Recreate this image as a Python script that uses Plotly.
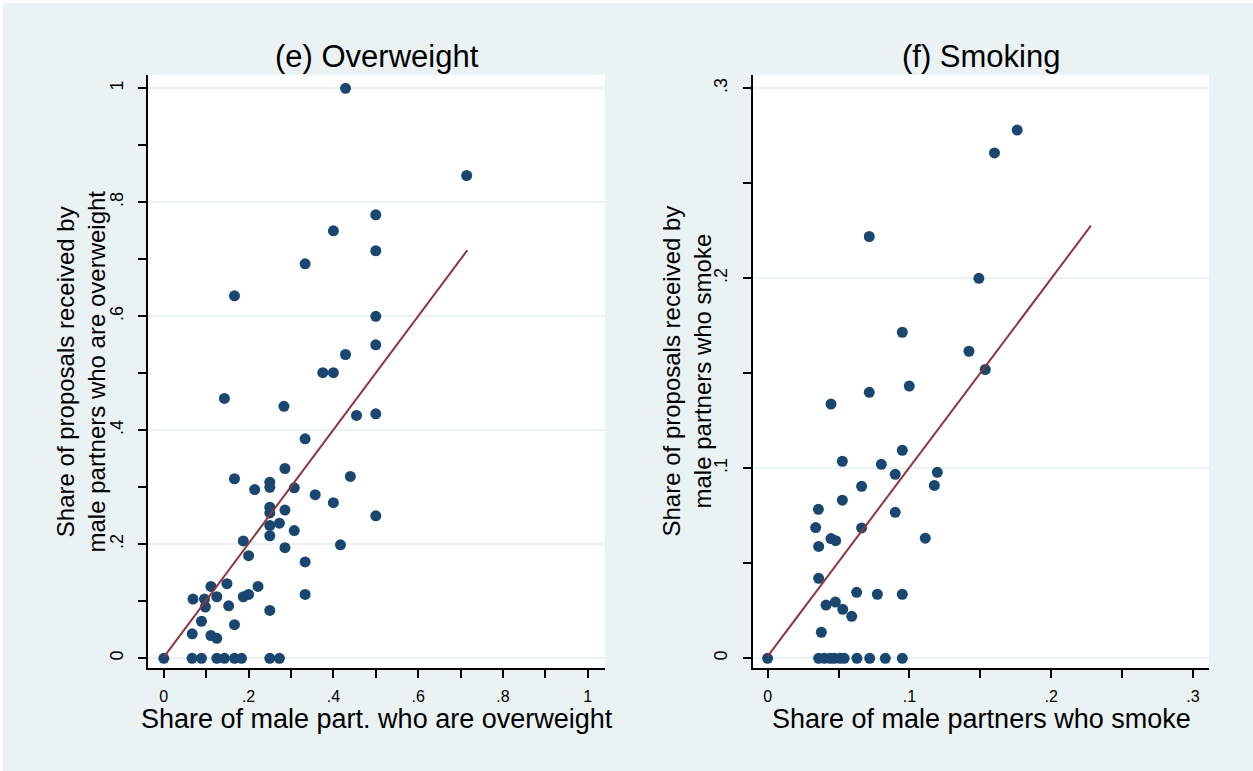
import plotly.graph_objects as go

W, H = 1253, 771

# ---------------- data: panel (e) Overweight ----------------
ow_x = [0, 0.0667, 0.0889, 0.125, 0.1429, 0.1667, 0.1833, 0.25, 0.2727,
        0.1429, 0.2833, 0.4545, 0.5, 0.3333, 0.2857, 0.1667, 0.44, 0.2143,
        0.25, 0.25, 0.3077, 0.3571, 0.4, 0.25, 0.25, 0.2857, 0.5, 0.2727,
        0.3077, 0.25, 0.25, 0.1875, 0.4167, 0.2857, 0.2, 0.3333, 0.1111,
        0.149, 0.2222, 0.0689, 0.096, 0.125, 0.1875, 0.2, 0.3333, 0.098,
        0.153, 0.25, 0.0889, 0.1667, 0.067, 0.1111, 0.125,
        0.4286, 0.7143, 0.5, 0.4, 0.5, 0.3333, 0.1667, 0.5, 0.5, 0.4286,
        0.375, 0.4]
ow_y = [0, 0, 0, 0, 0, 0, 0, 0, 0,
        0.456, 0.442, 0.426, 0.429, 0.385, 0.333, 0.315, 0.319, 0.296,
        0.309, 0.300, 0.299, 0.287, 0.273, 0.265, 0.255, 0.260, 0.250, 0.237,
        0.224, 0.233, 0.215, 0.206, 0.199, 0.194, 0.180, 0.169, 0.126,
        0.131, 0.126, 0.104, 0.104, 0.108, 0.108, 0.112, 0.112, 0.090,
        0.092, 0.084, 0.065, 0.059, 0.043, 0.040, 0.035,
        1.0, 0.847, 0.778, 0.750, 0.715, 0.692, 0.636, 0.600, 0.550, 0.533,
        0.501, 0.501]
ow_fit_x = [0, 0.716]
ow_fit_y = [0.002, 0.716]

# ---------------- data: panel (f) Smoking ----------------
sm_x = [0, 0.036, 0.040, 0.044, 0.047, 0.051, 0.054, 0.063, 0.072, 0.083, 0.095,
        0.0447, 0.0717, 0.0999, 0.095, 0.0527, 0.0802, 0.090, 0.1197, 0.1176,
        0.0663, 0.0527, 0.0358, 0.090, 0.0339, 0.0663, 0.0447, 0.048, 0.1112,
        0.036, 0.036, 0.0628, 0.0774, 0.095, 0.0412, 0.0478, 0.053, 0.0593,
        0.0379, 0.176, 0.160, 0.0717, 0.149, 0.095, 0.142, 0.1535]
sm_y = [0, 0, 0, 0, 0, 0, 0, 0, 0, 0, 0,
        0.1338, 0.140, 0.1433, 0.1095, 0.1037, 0.1021, 0.0968, 0.0979, 0.091,
        0.0905, 0.0832, 0.0784, 0.0768, 0.0688, 0.0686, 0.063, 0.0619, 0.0632,
        0.0589, 0.0421, 0.0347, 0.0337, 0.0337, 0.028, 0.0296, 0.0258, 0.0221,
        0.0137, 0.278, 0.266, 0.222, 0.200, 0.1716, 0.1616, 0.152]
sm_fit_x = [0, 0.228]
sm_fit_y = [0.001, 0.2277]

# ---------------- tick labels ----------------
ow_ticks = [0, 0.2, 0.4, 0.6, 0.8, 1]
ow_ticktext = ["0", ".2", ".4", ".6", ".8", "1"]
sm_ticks = [0, 0.1, 0.2, 0.3]
sm_ticktext = ["0", ".1", ".2", ".3"]

titles = ["(e) Overweight", "(f) Smoking"]
xtitles = ["Share of male part. who are overweight", "Share of male partners who smoke"]
ytitles = ["Share of proposals received by<br>male partners who are overweight",
           "Share of proposals received by<br>male partners who smoke"]

MARK = "#1a476f"
LINE = "#90353b"
BG = "#eaf2f3"
FONT = "Liberation Sans, Arial, sans-serif"

fig = go.Figure()
fig.add_trace(go.Scatter(x=ow_x, y=ow_y, mode="markers", xaxis="x", yaxis="y",
                         marker=dict(color=MARK, size=11, line=dict(width=0)),
                         showlegend=False))
fig.add_trace(go.Scatter(x=ow_fit_x, y=ow_fit_y, mode="lines", xaxis="x", yaxis="y",
                         line=dict(color=LINE, width=2), showlegend=False))
fig.add_trace(go.Scatter(x=sm_x, y=sm_y, mode="markers", xaxis="x2", yaxis="y2",
                         marker=dict(color=MARK, size=11, line=dict(width=0)),
                         showlegend=False))
fig.add_trace(go.Scatter(x=sm_fit_x, y=sm_fit_y, mode="lines", xaxis="x2", yaxis="y2",
                         line=dict(color=LINE, width=2), showlegend=False))

def px(v):
    return v / W

def py(v):
    return 1 - v / H

ydom = [py(668), py(75)]

common_x = dict(showgrid=False, zeroline=False, showline=True, linecolor="black",
                linewidth=2, ticks="outside", ticklen=8, tickwidth=1.5, tickcolor="black",
                tickfont=dict(family=FONT, size=16, color="black"),
                ticklabelstandoff=5, tickmode="array")
common_y = dict(showgrid=True, gridcolor=BG, gridwidth=1.5, zeroline=False, showline=True,
                linecolor="black", linewidth=2, ticks="outside", ticklen=8, tickwidth=1.5,
                tickcolor="black", tickangle=-90,
                tickfont=dict(family=FONT, size=18, color="black"),
                ticklabelstandoff=8, tickmode="array", domain=ydom)

fig.update_layout(
    width=W, height=H,
    margin=dict(l=0, r=0, t=0, b=0),
    paper_bgcolor=BG, plot_bgcolor="white",
    xaxis=dict(common_x, domain=[px(148), px(605)], range=[-0.03726, 1.04057],
               tickvals=ow_ticks, ticktext=ow_ticktext, anchor="y",
               minor=dict(tick0=0, dtick=0.1, ticks="outside", ticklen=8, tickwidth=1.5,
                          tickcolor="black", showgrid=False)),
    yaxis=dict(common_y, range=[-0.01702, 1.02333], tickvals=ow_ticks,
               ticktext=ow_ticktext, anchor="x",
               minor=dict(tick0=0, dtick=0.1, ticks="outside", ticklen=8, tickwidth=1.5,
                          tickcolor="black", showgrid=False)),
    xaxis2=dict(common_x, domain=[px(752.5), px(1209)], range=[-0.01065, 0.31128],
                tickvals=sm_ticks, ticktext=sm_ticktext, anchor="y2",
                minor=dict(tick0=0, dtick=0.05, ticks="outside", ticklen=8, tickwidth=1.5,
                           tickcolor="black", showgrid=False)),
    yaxis2=dict(common_y, range=[-0.00511, 0.30700], tickvals=sm_ticks,
                ticktext=sm_ticktext, anchor="x2",
                minor=dict(tick0=0, dtick=0.05, ticks="outside", ticklen=8, tickwidth=1.5,
                           tickcolor="black", showgrid=False)),
    showlegend=False,
)

centers = [376.5, 981]
ytitle_x = [80, 686]
for i in range(2):
    fig.add_annotation(text=titles[i], x=px(centers[i]), y=py(57), xref="paper", yref="paper",
                       xanchor="center", yanchor="middle", showarrow=False,
                       font=dict(family=FONT, size=31, color="black"))
    fig.add_annotation(text=xtitles[i], x=px(centers[i]), y=py(719), xref="paper", yref="paper",
                       xanchor="center", yanchor="middle", showarrow=False,
                       font=dict(family=FONT, size=27, color="black"))
    fig.add_annotation(text=ytitles[i], x=px(ytitle_x[i]), y=py(371.5), xref="paper",
                       yref="paper", xanchor="center", yanchor="middle", showarrow=False,
                       textangle=-90,
                       font=dict(family=FONT, size=24, color="black"))

# thin white strips along the top and left edges
fig.add_shape(type="rect", xref="paper", yref="paper", x0=0, y0=py(3), x1=1, y1=1,
              line=dict(width=0), fillcolor="white", layer="above")
fig.add_shape(type="rect", xref="paper", yref="paper", x0=0, y0=0, x1=px(3), y1=1,
              line=dict(width=0), fillcolor="white", layer="above")

fig.write_html("out.html", config={"displayModeBar": False},
               post_script="document.body.style.margin='0px';")
